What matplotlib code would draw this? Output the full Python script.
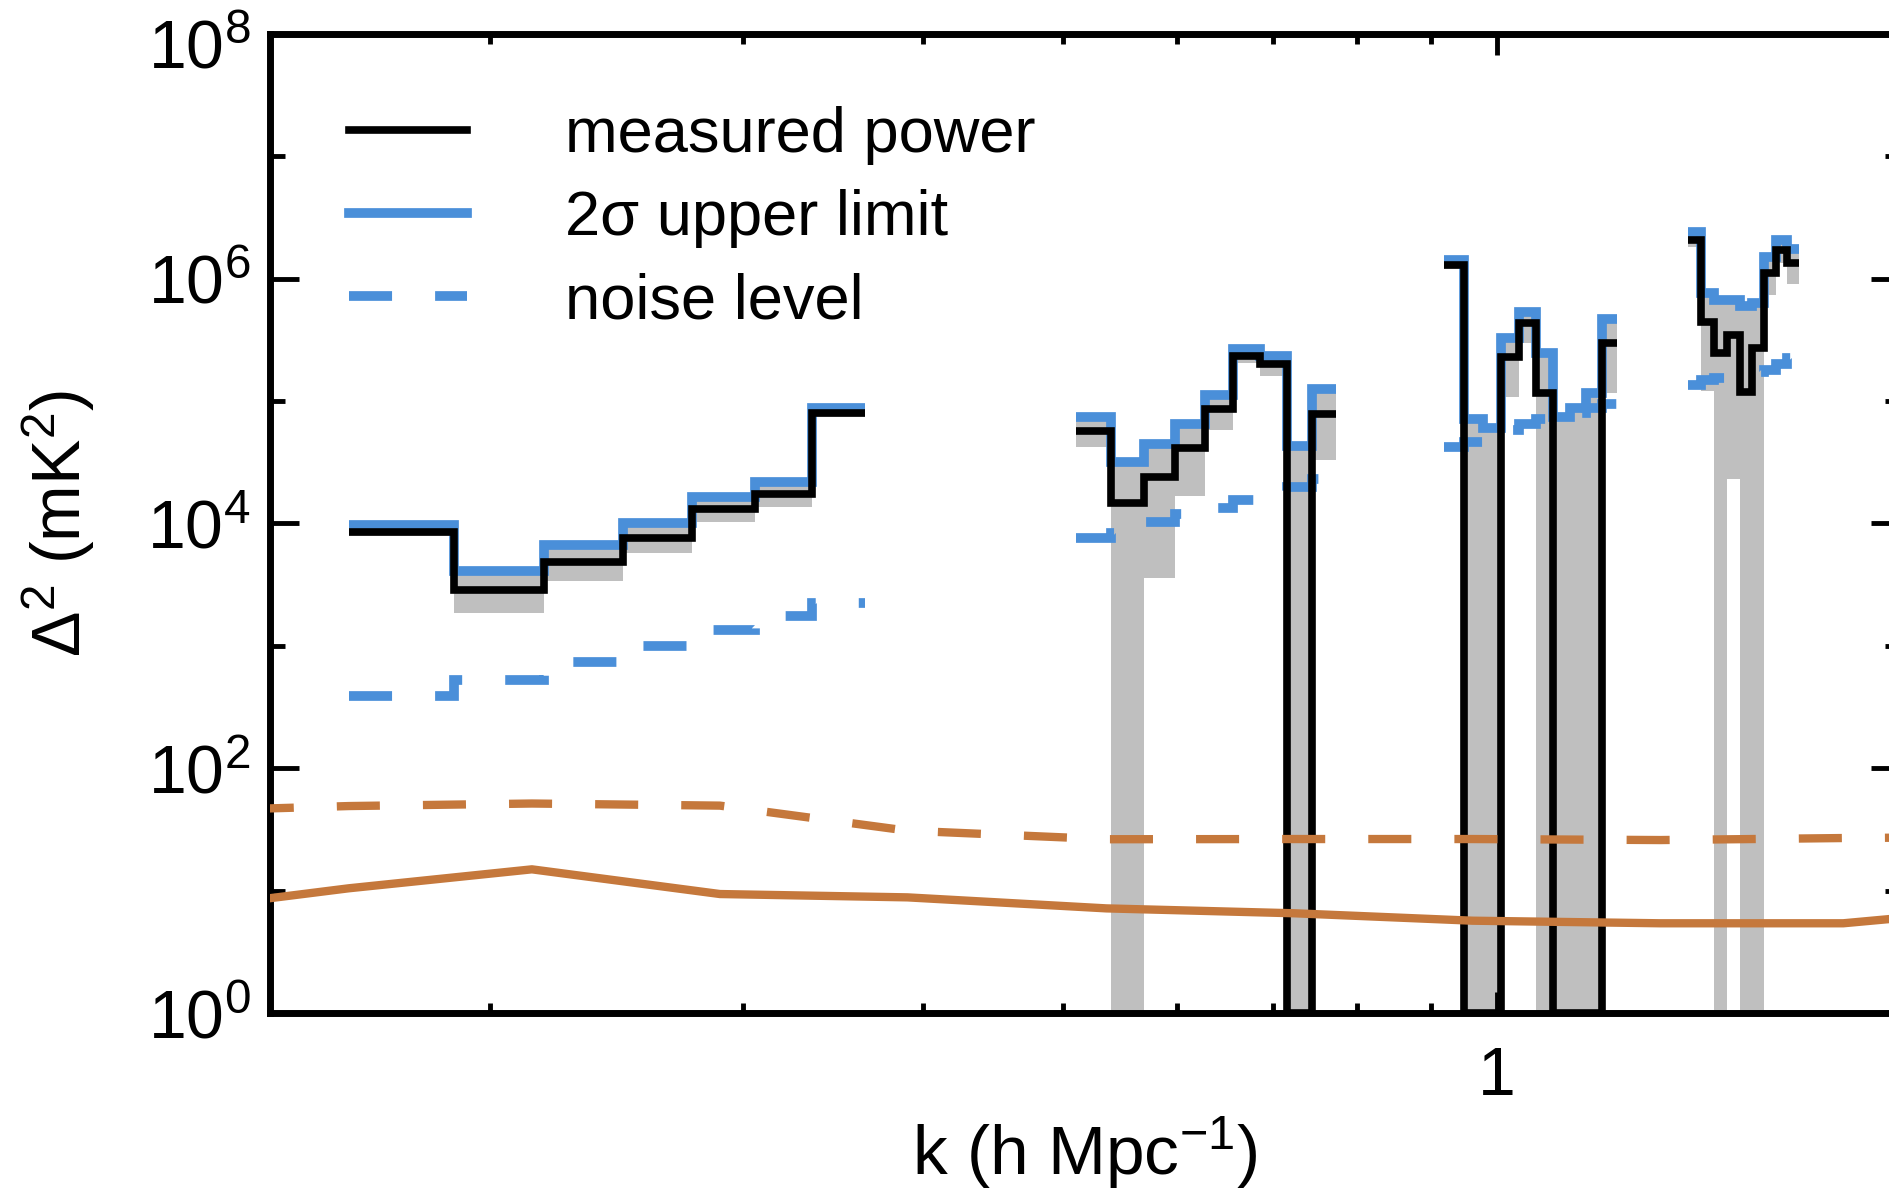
import matplotlib
matplotlib.use("Agg")
import matplotlib.pyplot as plt
import matplotlib.ticker as ticker
from matplotlib.lines import Line2D
import numpy as np

plt.rcParams['font.family'] = ['Liberation Sans', 'DejaVu Sans']
plt.rcParams['mathtext.fontset'] = 'custom'
plt.rcParams['mathtext.rm'] = 'Liberation Sans'
plt.rcParams['mathtext.it'] = 'Liberation Sans:italic'
plt.rcParams['mathtext.bf'] = 'Liberation Sans:bold'
plt.rcParams['lines.scale_dashes'] = False

# k bin edges (h/Mpc) for the four groups of measured bins
kedge_a = [0.1597, 0.1889, 0.2181, 0.2474, 0.2766, 0.3058, 0.3350, 0.3642]
kedge_b = [0.5103, 0.5395, 0.5688, 0.5980, 0.6272, 0.6564, 0.6856, 0.7149, 0.7441, 0.7733]
kedge_c = [0.9194, 0.9486, 0.9779, 1.0071, 1.0363, 1.0655, 1.0947, 1.1240, 1.1532,
           1.1824, 1.2116]
kedge_d = [1.3577, 1.3869, 1.4161, 1.4454, 1.4746, 1.5038, 1.5330, 1.5622, 1.5914, 1.6207]

# measured power, mK^2 (0 = non-positive bin, drawn at the floor)
pk_a = [8450, 2860, 4860, 7550, 13030, 17380, 79250]
pk_b = [56900, 14590, 24100, 41000, 85500, 233000, 199500, 0, 78300]
pk_c = [1291000, 0, 0, 227500, 431500, 115600, 0, 0, 0, 295800]
pk_d = [2065000, 444600, 245500, 345900, 119100, 269200, 1104000, 1714000, 1334000]

# 2 sigma upper limits
up_a = [9660, 4060, 6620, 10070, 16330, 21780, 87700]
up_b = [74500, 32100, 44300, 64400, 112000, 269000, 233000, 42700, 125300]
up_c = [1435000, 71300, 60500, 325100, 537000, 248300, 74500, 87100, 115600, 467700]
up_d = [2415000, 769000, 676000, 668000, 603000, 631000, 1514000, 2065000, 1766000]

# lower edge of the 2 sigma band
lo_a = [7940, 1850, 3400, 5700, 10330, 13680, 74100]
lo_b = [41900, 0, 3560, 16800, 57900, 203000, 160000, 0, 33300]
lo_c = [1202000, 0, 0, 108400, 295800, 0, 0, 0, 0, 115600]
lo_d = [1820000, 120200, 0, 22900, 0, 0, 741000, 1349000, 912000]

# noise level
noise_a = [389, 526, 733, 1000, 1350, 1760, 2250]
noise_b = [7550, 8300, 10200, 12000, 13500, 15500, 17400, 20000, 22900]
noise_c = [42400, 46600, 52500, 58300, 64900, 70800, 74100, 79400, 87100, 95500]
noise_d = [135200, 147900, 154900, 158500, 166000, 173800, 179100, 199500, 223900]

# model curves
k_model = [0.119, 0.1597, 0.214, 0.289, 0.390, 0.536, 0.724, 0.962, 1.299, 1.740, 2.33]
model_solid = [6.76, 10.45, 14.93, 9.38, 8.81, 7.16, 6.53, 5.68, 5.41, 5.41, 7.41]
model_dashed = [44.3, 49.1, 51.5, 49.5, 30.9, 26.3, 26.4, 26.4, 25.9, 26.9, 27.5]

groups = [
    (kedge_a, pk_a, up_a, lo_a, noise_a),
    (kedge_b, pk_b, up_b, lo_b, noise_b),
    (kedge_c, pk_c, up_c, lo_c, noise_c),
    (kedge_d, pk_d, up_d, lo_d, noise_d),
]

blue = '#4a8fd9'
grey = '#bfbfbf'
orange = '#c5783c'
floor = 1.0
dash = (0, (31, 31))

fig = plt.figure(figsize=(18.89, 11.96), dpi=100)
ax = fig.add_axes([0.1429, 0.1530, 0.8629, 0.8186])

for edges, pk, up, lo, noise in groups:
    pk = np.clip(np.array(pk, dtype=float), floor, None)
    up = np.array(up, dtype=float)
    lo = np.clip(np.array(lo, dtype=float), floor, None)
    ax.stairs(up, edges, baseline=lo, fill=True, color=grey, lw=0, zorder=1)
    ax.stairs(noise, edges, baseline=None, color=blue, lw=7, linestyle=dash, zorder=2)
    ax.stairs(up, edges, baseline=None, color=blue, lw=7, zorder=3)
    ax.stairs(pk, edges, baseline=None, color='black', lw=5.5, zorder=4)

ax.plot(k_model, model_dashed, color=orange, lw=6, linestyle=dash, zorder=5)
ax.plot(k_model, model_solid, color=orange, lw=6, zorder=5)

ax.set_xscale('log')
ax.set_yscale('log')
ax.set_xlim(0.1408, 1.905)
ax.set_ylim(1, 1e8)

# top decade label is placed by hand a little lower, below the figure edge
ytick_vals = [1e0, 1e2, 1e4, 1e6, 1e8]
ax.yaxis.set_major_locator(ticker.FixedLocator(ytick_vals))
ax.yaxis.set_minor_locator(ticker.FixedLocator([1e1, 1e3, 1e5, 1e7]))
ax.yaxis.set_major_formatter(ticker.FuncFormatter(
    lambda v, p: '' if v >= ytick_vals[-1] else r'$\mathdefault{10^{%d}}$' % round(np.log10(v))))
ax.yaxis.set_minor_formatter(ticker.NullFormatter())
ax.annotate(r'$\mathdefault{10^{%d}}$' % round(np.log10(ytick_vals[-1])),
            xy=(0, ytick_vals[-1]), xycoords=('axes fraction', 'data'),
            xytext=(-14, -12), textcoords='offset points',
            ha='right', va='center', fontsize=49, annotation_clip=False)

ax.xaxis.set_major_locator(ticker.FixedLocator([1.0]))
ax.xaxis.set_major_formatter(ticker.FixedFormatter(['1']))
ax.xaxis.set_minor_locator(ticker.FixedLocator([0.2, 0.3, 0.4, 0.5, 0.6, 0.7, 0.8, 0.9]))
ax.xaxis.set_minor_formatter(ticker.NullFormatter())

for s in ax.spines.values():
    s.set_linewidth(5)
ax.tick_params(which='both', direction='in', top=True, right=True, labelsize=49)
ax.tick_params(axis='y', which='major', length=21, width=3.5, pad=14)
ax.tick_params(axis='y', which='minor', length=11, width=3.5)
ax.tick_params(axis='x', which='major', length=15, width=3.5, pad=23)
ax.tick_params(axis='x', which='minor', length=7, width=3.5)

ax.set_xlabel('k (h Mpc$^{-1}$)', fontsize=50, labelpad=4)
ax.set_ylabel('Δ$^2$ (mK$^2$)', fontsize=49, labelpad=36)

handles = [
    Line2D([], [], color='black', lw=5.5),
    Line2D([], [], color=blue, lw=7),
    Line2D([], [], color=blue, lw=7, linestyle=dash),
]
labels = ['measured power', '2σ upper limit', 'noise level']
ax.legend(handles, labels, loc='upper left', bbox_to_anchor=(0.0485, 0.926),
          frameon=False, fontsize=45.5, handlelength=1.87, handletextpad=1.55,
          labelspacing=0.38, borderpad=0, borderaxespad=0)

fig.savefig('out.png', dpi=100)
